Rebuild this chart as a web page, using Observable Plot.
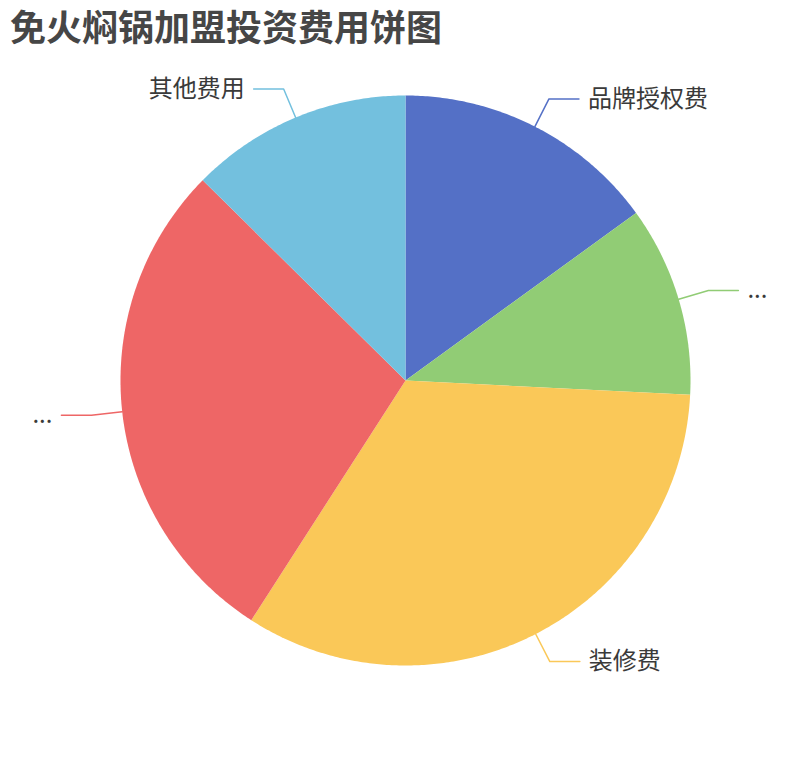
<!DOCTYPE html>
<html>
<head>
<meta charset="utf-8">
<script src="https://cdn.jsdelivr.net/npm/d3@7"></script>
<script src="https://cdn.jsdelivr.net/npm/@observablehq/plot@0.6"></script>
<style>
  html, body { margin: 0; padding: 0; background: #fff; }
  #wrap { position: relative; width: 810px; height: 760px; font-family: "Noto Sans CJK SC", "Noto Sans", sans-serif; }
  #title { position: absolute; left: 10px; top: 0px; font-size: 36px; font-weight: bold; color: #464646; line-height: 50px; white-space: nowrap; }
  #chart { position: absolute; left: 0; top: 50px; }
</style>
</head>
<body>
<div id="wrap">
  <div id="title">免火焖锅加盟投资费用饼图</div>
  <div id="chart"></div>
</div>
<script>
// ---- data ----
const names  = ["品牌授权费", "设备采购费", "装修费", "店面租金", "其他费用"];
const values = [15, 10.8, 33.3, 28.3, 12.6];
const labels = ["品牌授权费", "...", "装修费", "...", "其他费用"];
const colors = ["#5470c6", "#91cc75", "#fac858", "#ee6666", "#73c0de"];

// ---- geometry helpers (in radius units, y up) ----
const W = 810, H = 710, R = 285, CX = 405, CY = 330;
const len1 = 31 / R, len2 = 30 / R;

const arcs = d3.pie().sort(null).value(d => d.value)(names.map((n, i) => ({name: n, value: values[i], label: labels[i]})));

const slicePts = [];
const linePts = [];
const textPts = [];
arcs.forEach(a => {
  const n = a.data.name;
  slicePts.push({name: n, x: 0, y: 0});
  const steps = Math.max(2, Math.ceil((a.endAngle - a.startAngle) / (Math.PI / 360)));
  for (let k = 0; k <= steps; k++) {
    const t = a.startAngle + (a.endAngle - a.startAngle) * k / steps;
    slicePts.push({name: n, x: Math.sin(t), y: Math.cos(t)});
  }
  const m = (a.startAngle + a.endAngle) / 2;
  const sx = Math.sin(m), sy = Math.cos(m);
  const ex = sx * (1 + len1), ey = sy * (1 + len1);
  const dir = sx >= 0 ? 1 : -1;
  const hx = ex + dir * len2;
  linePts.push({name: n, x: sx, y: sy});
  linePts.push({name: n, x: ex, y: ey});
  linePts.push({name: n, x: hx, y: ey});
  textPts.push({name: n, label: a.data.label, x: hx, y: ey, anchor: dir > 0 ? "start" : "end"});
});

const chart = Plot.plot({
  width: W,
  height: H,
  margin: 0,
  x: {domain: [-CX / R, (W - CX) / R], axis: null},
  y: {domain: [-(H - CY) / R, CY / R], axis: null},
  color: {domain: names, range: colors},
  style: {fontFamily: "'Noto Sans CJK SC', sans-serif", background: "white"},
  marks: [
    Plot.line(slicePts, {x: "x", y: "y", z: "name", fill: "name", stroke: "none", curve: "linear-closed"}),
    Plot.line(linePts, {x: "x", y: "y", z: "name", stroke: "name", strokeWidth: 1.5}),
    Plot.text(textPts.filter(d => d.anchor === "start"), {x: "x", y: "y", text: "label", textAnchor: "start", dx: 9, fontSize: 24, fill: "#3a3a3a"}),
    Plot.text(textPts.filter(d => d.anchor === "end"), {x: "x", y: "y", text: "label", textAnchor: "end", dx: -9, fontSize: 24, fill: "#3a3a3a"})
  ]
});
document.getElementById("chart").appendChild(chart);
</script>
</body>
</html>
